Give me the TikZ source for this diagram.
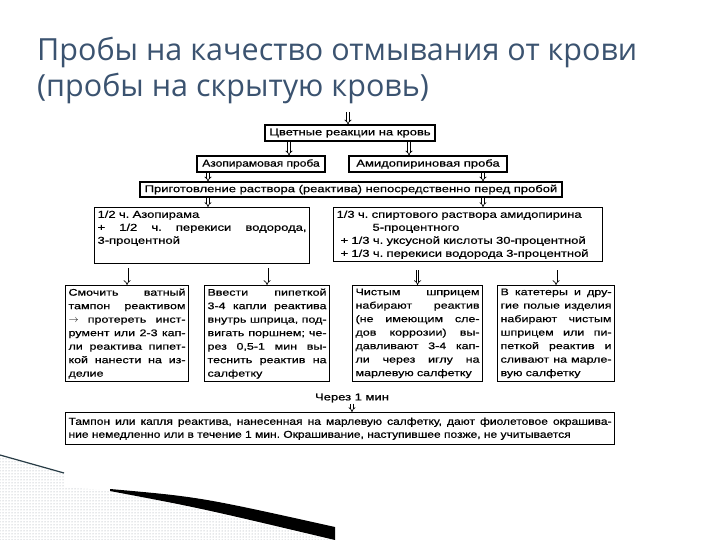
\documentclass[tikz,border=0pt]{standalone}
\usepackage{fontspec}
\setmainfont{Liberation Sans}
\newfontfamily\titlefont{Open Sans}
\newfontfamily\boxfont[FakeStretch=1.2,FakeBold=0.6]{Liberation Sans}
\newfontfamily\widefont[FakeStretch=1.3,FakeBold=0.6]{Liberation Sans}
\usetikzlibrary{arrows.meta,positioning,calc,patterns}
\definecolor{TitleBlue}{RGB}{59,83,112}
\definecolor{DotGray}{RGB}{150,158,168}
\definecolor{WispLine}{RGB}{40,60,70}
\newcommand{\fullline}[1]{\makebox[\hsize][s]{\spaceskip=0.3em plus 1fil\relax #1}}
\frenchspacing

\begin{document}
\begin{tikzpicture}[x=1pt,y=-1pt,
  box/.style={draw, line width=1.1pt, font=\widefont\fontsize{10}{13}\selectfont},
  textbox/.style={box, anchor=north west, align=left, inner xsep=3pt, inner ysep=3pt},
  stepbox/.style={box, anchor=north west, align=left, inner xsep=3pt, inner ysep=3pt, font=\widefont\fontsize{9.6}{13.5}\selectfont},
  dbl/.style={double, double distance=1.8pt, line width=0.65pt, -{Implies}}]
  \useasboundingbox (0,0) rectangle (720,540);
  \fill[white] (0,0) rectangle (720,540);
  \fill[pattern=dots, pattern color=DotGray] (0,455) -- (64,473) -- (64,488) -- (112,490) -- (333,540) -- (0,540) -- cycle;
  \draw[line width=1.2pt, WispLine] (0,455) -- (64,473);
  \fill[black] (110,489) .. controls (200,497) .. (335,527) -- (335,540) .. controls (200,508) .. (110,491) -- cycle;
  \node[anchor=base west, inner sep=0, text=TitleBlue, font=\titlefont\fontsize{30.5}{36}\selectfont] (title) at (37,61) {Пробы на качество отмывания от крови};
  \node[anchor=base west, inner sep=0, text=TitleBlue, font=\titlefont\fontsize{30.5}{36}\selectfont] (subtitle) at (37,97) {(пробы на скрытую кровь)};
  \node[box, minimum width=170pt, minimum height=16pt, inner sep=0] (color) at (350,133) {Цветные реакции на кровь};
  \node[box, minimum width=128pt, minimum height=16pt, inner sep=0, font=\boxfont\fontsize{10}{13}\selectfont] (azo) at (261,164) {Азопирамовая проба};
  \node[box, minimum width=158pt, minimum height=16pt, inner sep=0] (amido) at (428,164) {Амидопириновая проба};
  \node[box, minimum width=422pt, minimum height=15pt, inner sep=0] (prep) at (351,189.5) {Приготовление раствора (реактива) непосредственно перед пробой};
  \node[textbox, text width=209pt] (azomix) at (94,207) {1/2 ч. Азопирама\\\fullline{+ 1/2 ч. перекиси водорода,}\\3-процентной\\ \strut};
  \node[textbox, text width=263pt] (amidomix) at (333,207) {1/3 ч. спиртового раствора амидопирина\\\hspace*{36pt}5-процентного\\\hspace*{4pt}+ 1/3 ч. уксусной кислоты 30-процентной\\\hspace*{4pt}+ 1/3 ч. перекиси водорода 3-процентной};
  \node[stepbox, text width=117pt] (swab) at (65,285) {\fullline{Смочить ватный}\\\fullline{тампон реактивом}\\\fullline{$\rightarrow$ протереть инст-}\\\fullline{румент или 2-3 кап-}\\\fullline{ли реактива пипет-}\\\fullline{кой нанести на из-}\\делие};
  \node[stepbox, text width=119pt] (pipette) at (204,285) {\fullline{Ввести пипеткой}\\\fullline{3-4 капли реактива}\\\fullline{внутрь шприца, под-}\\\fullline{вигать поршнем; че-}\\\fullline{рез 0,5-1 мин вы-}\\\fullline{теснить реактив на}\\салфетку};
  \node[stepbox, text width=124pt] (syringe) at (352,285) {\fullline{Чистым шприцем}\\\fullline{набирают реактив}\\\fullline{(не имеющим сле-}\\\fullline{дов коррозии) вы-}\\\fullline{давливают 3-4 кап-}\\\fullline{ли через иглу на}\\марлевую салфетку};
  \node[stepbox, text width=111pt] (catheter) at (497,285) {\fullline{В катетеры и дру-}\\\fullline{гие полые изделия}\\\fullline{набирают чистым}\\\fullline{шприцем или пи-}\\\fullline{петкой реактив и}\\\fullline{сливают на марле-}\\вую салфетку};
  \node[font=\widefont\fontsize{10}{13}\selectfont, inner sep=1pt] (wait) at (352,398) {Через 1 мин};
  \node[stepbox, text width=543pt, inner ysep=5pt, font=\boxfont\fontsize{10}{13}\selectfont] (result) at (65,412) {\fullline{Тампон или капля реактива, нанесенная на марлевую салфетку, дают фиолетовое окрашива-}\\ние немедленно или в течение 1 мин. Окрашивание, наступившее позже, не учитывается};
  \coordinate (entry) at (348,112);
  \draw[dbl] (entry) -- (color.north -| entry);
  \draw[dbl] (color.south -| 289,0) -- (azo.north -| 289,0);
  \draw[dbl] (color.south -| 409,0) -- (amido.north -| 409,0);
  \draw[dbl] (azo.south -| 208,0) -- (prep.north -| 208,0);
  \draw[dbl] (amido.south -| 483,0) -- (prep.north -| 483,0);
  \draw[dbl] (prep.south -| 208,0) -- (azomix.north -| 208,0);
  \draw[dbl] (prep.south -| 483,0) -- (amidomix.north -| 483,0);
  \draw[dbl, shorten <=4pt] (azomix.south -| swab.north) -- (swab.north);
  \draw[dbl, shorten <=4pt] (azomix.south -| pipette.north) -- (pipette.north);
  \draw[dbl, shorten <=8pt] (amidomix.south -| syringe.north) -- (syringe.north);
  \draw[dbl, shorten <=8pt] (amidomix.south -| catheter.north) -- (catheter.north);
  \draw[dbl] (wait.south) -- (result.north -| wait.south);
\end{tikzpicture}
\end{document}
